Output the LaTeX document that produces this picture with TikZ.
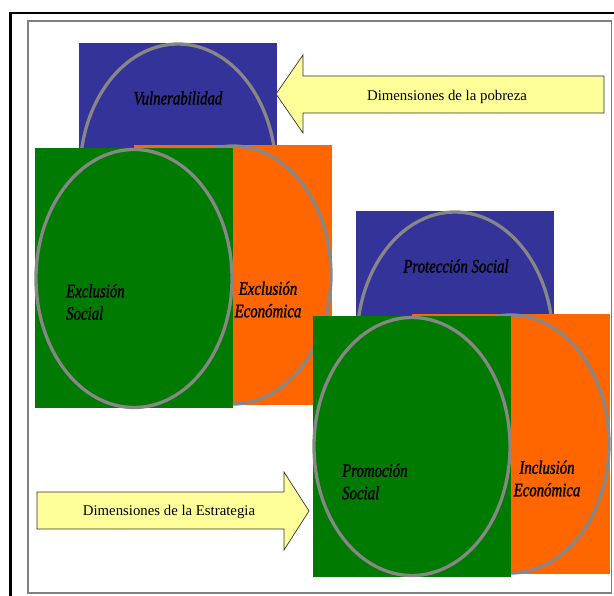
\documentclass[tikz,border=0pt]{standalone}
\usepackage{fontspec}
\setmainfont{Liberation Serif}
\newfontfamily\narrowserif[FakeStretch=0.78, FakeBold=1.4]{Liberation Serif}
\usetikzlibrary{shapes.geometric}
\definecolor{dimblue}{HTML}{333399}
\definecolor{dimorange}{HTML}{FF6600}
\definecolor{dimgreen}{HTML}{007A00}
\definecolor{ringgray}{HTML}{878787}
\definecolor{bandyellow}{HTML}{FFFF99}
\begin{document}
\begin{tikzpicture}[x=1pt, y=-1pt,
    panel/.style={rectangle, inner sep=0pt, minimum width=198pt, minimum height=260pt},
    ring/.style={ellipse, draw=ringgray, line width=3.3pt, inner sep=0pt,
      minimum width=196pt, minimum height=258pt},
    lbl/.style={font=\narrowserif\itshape\fontsize{19}{22.5}\selectfont, inner sep=0pt},
    band/.style={fill=bandyellow, draw=black!80, line width=0.7pt},
    bandtxt/.style={font=\fontsize{14.8}{18}\selectfont, inner sep=0pt}]
      \useasboundingbox (0,0) rectangle (614,596);
      \draw[line width=2.5pt] (10.5,13) rectangle (700,700);
      \draw[gray, line width=1.4pt] (28,21) rectangle (611.5,593);

      % dimensiones de la pobreza
      \node[panel, fill=dimblue] (vulbox) at (178,173) {};
      \node[ring] (vulring) at (vulbox.center) {};
      \node[panel, fill=dimorange] (ecobox) at (233,275) {};
      \node[ring] (ecoring) at (ecobox.center) {};
      \node[panel, fill=dimgreen] (socbox) at (134,278.5) {};
      \node[ring] (socring) at (socbox.center) {};

      \node[lbl] (vul) at (178,98) {Vulnerabilidad};
      \node[lbl, align=left, anchor=west] (exsoc) at (66,302) {Exclusión\\Social};
      \node[lbl, align=center] (execo) at (268,299.5) {Exclusión\\Económica};

      % dimensiones de la estrategia
      \node[panel, fill=dimblue] (probox) at (455,341) {};
      \node[ring] (proring) at (probox.center) {};
      \node[panel, fill=dimorange] (incbox) at (511,444) {};
      \node[ring] (incring) at (incbox.center) {};
      \node[panel, fill=dimgreen] (prmbox) at (412,446.5) {};
      \node[ring] (prmring) at (prmbox.center) {};

      \node[lbl] (prot) at (456,266) {Protección Social};
      \node[lbl, align=left, anchor=west] (prom) at (342,481.5) {Promoción\\Social};
      \node[lbl, align=center] (incl) at (547,478.5) {Inclusión\\Económica};

      % flechas
      \draw[band] (604,76) -- (303,76) -- (303,55) -- (276,94)
        -- (303,133) -- (303,113) -- (604,113) -- cycle;
      \node[bandtxt] (pobreza) at (447,97) {Dimensiones de la pobreza};
      \draw[band] (37,492) -- (284,492) -- (284,472) -- (309,511)
        -- (284,550) -- (284,529) -- (37,529) -- cycle;
      \node[bandtxt] (estrategia) at (169,512) {Dimensiones de la Estrategia};
\end{tikzpicture}
\end{document}
